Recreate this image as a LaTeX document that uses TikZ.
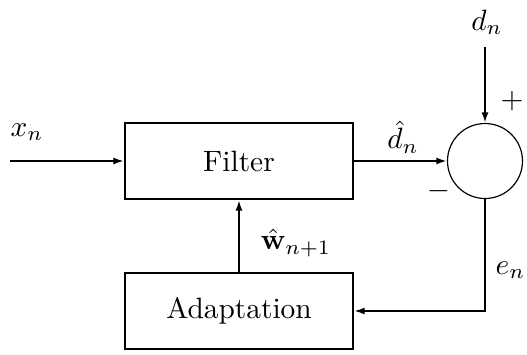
\documentclass[tikz,border=0pt]{standalone}
\usepackage{amsmath}
\usetikzlibrary{arrows.meta}
\begin{document}
\begin{tikzpicture}[x=0.34pt,y=0.34pt,
  blk/.style={draw,line width=0.7pt,minimum width=228*0.34pt,minimum height=76*0.34pt,inner sep=0pt},
  sumnode/.style={draw,circle,line width=0.4pt,minimum size=75*0.34pt,inner sep=0pt},
  conn/.style={line width=0.7pt,-{Latex[length=3.6pt,width=2.4pt]}},
  lbl/.style={inner sep=0pt}]
\useasboundingbox (0,0) rectangle (527,354);
\node[blk] (filt) at (239,193) {Filter};
\node[blk] (adapt) at (239,43) {Adaptation};
\node[sumnode] (sum) at (485,193) {};
\coordinate (xin) at (10,193);
\coordinate (dtop) at (485,307);
\coordinate (corner) at (485,43);
\node[lbl] (xlab) at (27,222) {$x_n$};
\node[lbl] (dlab) at (487,332) {$d_n$};
\node[lbl] (plus) at (512,253) {$+$};
\node[lbl] (minus) at (439,163) {$-$};
\node[lbl] (dhlab) at (403,217) {$\hat{d}_n$};
\node[lbl] (wlab) at (296,111) {$\hat{\mathbf{w}}_{n+1}$};
\node[lbl,anchor=west] (elab) at (495,84) {$e_n$};
\draw[conn] (xin) -- (filt.west);
\draw[conn] (filt.east) -- (sum.west);
\draw[conn] (dtop) -- (sum.north);
\draw[conn] (adapt.north) -- (filt.south);
\draw[conn] (sum.south) -- (corner) -- (adapt.east);
\end{tikzpicture}
\end{document}
